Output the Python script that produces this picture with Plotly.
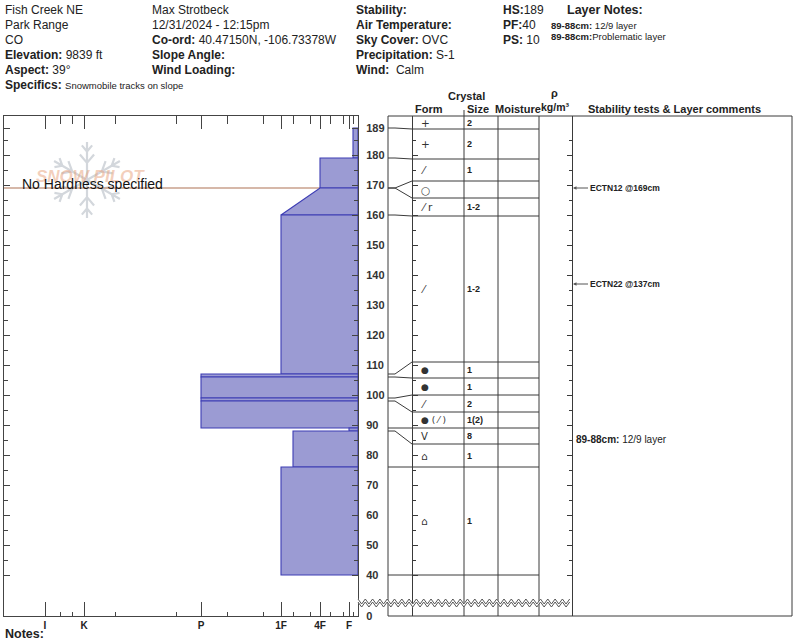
import math
import plotly.graph_objects as go

W, H = 800, 644
FONT = "Liberation Sans, Arial, Helvetica, sans-serif"
INK = "#222222"
GRID = "#3a3a3a"

# ---------------- header data ----------------
site_lines = ["Fish Creek NE", "Park Range", "CO"]
elevation = "9839 ft"
aspect = "39°"
specifics = "Snowmobile tracks on slope"
observer = "Max Strotbeck"
obs_time = "12/31/2024 - 12:15pm"
coord = "40.47150N, -106.73378W"
sky_cover = "OVC"
precipitation = "S-1"
wind = "Calm"
hs_cm = 189
pf_cm = 40
ps_cm = 10
note_depths = ["89-88cm:", "89-88cm:"]
note_texts = [" 12/9 layer", "Problematic layer"]

# ---------------- hardness scale ----------------
hard_major = ["I", "K", "P", "1F", "4F", "F"]
hard_minor = ["I-", "K+", "K-", "P+", "P-", "1F+", "1F-", "4F+", "4F-", "F+", "F-"]
hard_scale = {"F-": 5, "F": 9, "F+": 15, "4F-": 28, "4F": 38, "4F+": 48,
              "1F-": 65, "1F": 77, "1F+": 95, "P-": 131, "P": 157, "P+": 182,
              "K-": 243, "K": 274, "K+": 286, "I-": 298, "I": 313}

# ---------------- hardness profile ----------------
lay_top = [189, 179, 169, 160, 107, 106, 99, 98, 89, 88, 76]
lay_bot = [179, 169, 160, 107, 106, 99, 98, 89, 88, 76, 40]
hard_at_top = ["F-", "4F", "4F", "1F", "P", "P", "P", "P", "F", "1F-", "1F"]
hard_at_bot = ["F-", "4F", "1F", "1F", "P", "P", "P", "P", "F", "1F-", "1F"]
no_hardness_depths = [169]

# ---------------- crystal table ----------------
row_depth_edges = [189, 179, 169, 169, 160, 107, 106, 99, 98, 89, 88, 76, 40]
crystal_form = ["+", "+", "⁄", "○", "⁄ r", "⁄", "●", "●", "⁄", "● ( ⁄ )", "V", "⌂", "⌂"]
crystal_size = ["2", "2", "1", "", "1-2", "1-2", "1", "1", "2", "1(2)", "8", "1", "1"]

# ---------------- stability tests / comments ----------------
test_names = ["ECTN12", "ECTN22"]
test_depths = [169, 137]
comment_label = "89-88cm:"
comment_text = " 12/9 layer"

depth_major = list(range(40, 181, 10))
depth_minor = list(range(45, 186, 10))

# ---------------- layout geometry (pixels) ----------------
HX0, HX1 = 4, 358
PY_T, PY_B = 116, 616
Y40, PPC = 575, 3.0
D_TOP = 40 + (Y40 - PY_T) / PPC
D_BOT = 40 + (Y40 - PY_B) / PPC
ROW_PX = [116, 129, 159, 181, 198, 216, 362, 378, 395, 412, 428, 444, 467, 575]
COLS = [388, 412, 464, 498, 539, 572, 792]


def px(x):
    return x / W


def py(y):
    return 1 - y / H


def d_of(ypix):
    return 40 + (Y40 - ypix) / PPC


row_edges = [d_of(v) for v in ROW_PX]

fig = go.Figure()

for d in no_hardness_depths:
    fig.add_trace(go.Scatter(x=[HX1 - HX0, 0], y=[d, d], mode="lines",
                             line=dict(color="#c9a08c", width=1.3), hoverinfo="skip"))

for t, b, ht, hb in zip(lay_top, lay_bot, hard_at_top, hard_at_bot):
    fig.add_trace(go.Scatter(
        x=[0, hard_scale[ht], hard_scale[hb], 0, 0], y=[t, t, b, b, t],
        mode="lines", fill="toself", fillcolor="#9b9bd3",
        line=dict(color="#3c3cb4", width=1.1), hoverinfo="skip"))

fig.add_trace(go.Scatter(x=[None], y=[None], yaxis="y2", hoverinfo="skip"))
fig.add_trace(go.Scatter(x=[None], y=[None], yaxis="y3", hoverinfo="skip"))
fig.add_trace(go.Scatter(x=[None], y=[None], xaxis="x2", hoverinfo="skip"))

ydom = [py(PY_B), py(PY_T)]
hx_major = [hard_scale[k] for k in hard_major]
hx_minor = [hard_scale[k] for k in hard_minor]
fig.update_layout(
    width=W, height=H, autosize=False,
    margin=dict(l=0, r=0, t=0, b=0, pad=0, autoexpand=False),
    paper_bgcolor="white", plot_bgcolor="white", showlegend=False,
    xaxis=dict(domain=[px(HX0), px(HX1)], range=[HX1 - HX0, 0], automargin=False,
               showgrid=False, zeroline=False, showline=True, linecolor="#444",
               linewidth=1, mirror=True, ticks="inside", ticklen=14,
               tickcolor="#444", tickwidth=1, ticklabelstandoff=0,
               tickvals=hx_major, ticktext=hard_major,
               tickfont=dict(size=10, family=FONT, color=INK, weight="bold"),
               minor=dict(tickvals=hx_minor, ticks="inside",
                          ticklen=4, tickcolor="#444", tickwidth=1),
               fixedrange=True),
    xaxis2=dict(overlaying="x", side="top", anchor="y", range=[HX1 - HX0, 0],
                automargin=False,
                showgrid=False, zeroline=False, showline=False, ticks="inside",
                ticklen=13, tickcolor="#444", tickwidth=1, tickvals=hx_major,
                showticklabels=False,
                minor=dict(tickvals=hx_minor, ticks="inside", ticklen=8,
                           tickcolor="#444", tickwidth=1),
                fixedrange=True),
    yaxis=dict(domain=ydom, range=[D_BOT, D_TOP], side="right", automargin=False,
               showgrid=False, zeroline=False, showline=True, linecolor="#444",
               linewidth=1, mirror="ticks", ticks="inside", ticklen=6,
               tickcolor="#444", tickwidth=1,
               tickvals=[D_BOT] + depth_major + [hs_cm],
               ticktext=["0"] + [str(v) for v in depth_major] + [str(hs_cm)],
               ticklabelstandoff=5,
               tickfont=dict(size=11, family=FONT, color="#333", weight="bold"),
               minor=dict(tickvals=depth_minor, ticks="inside", ticklen=4,
                          tickcolor="#444", tickwidth=1),
               fixedrange=True),
    yaxis2=dict(overlaying="y", anchor="free", position=px(COLS[1]), side="left",
                automargin=False,
                range=[D_BOT, D_TOP], showgrid=False, zeroline=False, showline=True,
                linecolor=GRID, linewidth=1, ticks="inside", ticklen=5,
                tickcolor=GRID, tickvals=depth_major, showticklabels=False,
                minor=dict(tickvals=depth_minor, ticks="inside", ticklen=3,
                           tickcolor=GRID), fixedrange=True),
    yaxis3=dict(overlaying="y", anchor="free", position=px(COLS[5]), side="right",
                automargin=False,
                range=[D_BOT, D_TOP], showgrid=False, zeroline=False, showline=True,
                linecolor=GRID, linewidth=1, ticks="inside", ticklen=5,
                tickcolor=GRID, tickvals=depth_major, showticklabels=False,
                minor=dict(tickvals=depth_minor, ticks="inside", ticklen=3,
                           tickcolor=GRID), fixedrange=True),
)

shapes = []
LW = dict(color=GRID, width=1)

# snowflake watermark (line art)
CX, CY, ARM = 87, 180, 38
flake = []
for k in range(6):
    a = math.radians(90 + 60 * k)
    ux, uy = math.cos(a), -math.sin(a)
    flake.append(f"M {px(CX)},{py(CY)} L {px(CX + ARM * ux)},{py(CY + ARM * uy)}")
    for frac, blen in ((0.45, 11), (0.75, 8)):
        bx, by = CX + ARM * frac * ux, CY + ARM * frac * uy
        for s in (-1, 1):
            b = a + s * math.radians(40)
            flake.append(f"M {px(bx)},{py(by)} L {px(bx + blen * math.cos(b))},"
                         f"{py(by - blen * math.sin(b))}")
shapes.append(dict(type="path", xref="paper", yref="paper", path=" ".join(flake),
                   line=dict(color="#d3d7dc", width=2.2), layer="below"))

for x in [COLS[0], COLS[2], COLS[3], COLS[4], COLS[6]]:
    shapes.append(dict(type="line", xref="paper", yref="paper", x0=px(x), x1=px(x),
                       y0=py(PY_T), y1=py(PY_B), line=LW))
shapes.append(dict(type="line", xref="paper", yref="paper", x0=px(COLS[2]), x1=px(COLS[2]),
                   y0=py(110), y1=py(PY_T), line=LW))
shapes.append(dict(type="line", xref="paper", yref="paper", x0=px(COLS[0]), x1=px(COLS[6]),
                   y0=py(PY_T), y1=py(PY_T), line=LW))
shapes.append(dict(type="line", xref="paper", yref="paper", x0=px(COLS[0]), x1=px(COLS[6]),
                   y0=py(PY_B), y1=py(PY_B), line=LW))
for e in row_edges[1:]:
    shapes.append(dict(type="line", xref="paper", yref="y", x0=px(COLS[1]), x1=px(COLS[4]),
                       y0=e, y1=e, line=LW))
for d, e in zip(row_depth_edges, row_edges[1:]):
    shapes.append(dict(type="path", xref="paper", yref="y", line=LW,
                       path=f"M {px(COLS[0])},{d} L {px(395)},{d} L {px(COLS[1])},{e}"))

ZX0, ZX1, STEP = HX1, COLS[5] + 1, 3.65
pts = []
x = ZX0
i = 0
while x <= ZX1 + 0.01:
    pts.append((x, 599 if i % 2 == 0 else 604))
    x += STEP
    i += 1
upper = pts
lower = [(a, b + 3) for a, b in pts]
poly = "M " + " L ".join(f"{px(a)},{py(b - 0.5)}" for a, b in upper)
poly += " L " + " L ".join(f"{px(a)},{py(b + 0.5)}" for a, b in reversed(lower)) + " Z"
shapes.append(dict(type="path", xref="paper", yref="paper", path=poly,
                   fillcolor="white", line=dict(width=0)))
for line_pts in (upper, lower):
    p = "M " + " L ".join(f"{px(a)},{py(b)}" for a, b in line_pts)
    shapes.append(dict(type="path", xref="paper", yref="paper", path=p,
                       line=dict(color="#555", width=1)))
fig.update_layout(shapes=shapes)


def txt(x, y, s, size=12, anchor="left", color=INK, yref="paper", family=FONT):
    fig.add_annotation(x=px(x), y=(py(y) if yref == "paper" else y), xref="paper",
                       yref=yref, text=s, showarrow=False, xanchor=anchor,
                       yanchor="middle", font=dict(size=size, color=color, family=family))


txt(90, 176, "<b><i>SNOW PILOT</i></b>", size=17, anchor="center",
    color="rgba(232,160,122,0.5)")
txt(20, 184, "No Hardness specified", size=14, color="#111")

col1 = site_lines + [f"<b>Elevation:</b> {elevation}", f"<b>Aspect:</b> {aspect}",
                     f"<b>Specifics:</b> <span style='font-size:9.5px'>{specifics}</span>"]
col2 = [observer, obs_time, f"<b>Co-ord:</b> {coord}", "<b>Slope Angle:</b>",
        "<b>Wind Loading:</b>"]
col3 = ["<b>Stability:</b>", "<b>Air Temperature:</b>", f"<b>Sky Cover:</b> {sky_cover}",
        f"<b>Precipitation:</b> {precipitation}", f"<b>Wind:</b>\u00a0\u00a0{wind}"]
col4 = [f"<b>HS:</b>{hs_cm}", f"<b>PF:</b>{pf_cm}", f"<b>PS:</b> {ps_cm}"]
ROWY = [10, 25, 40, 55, 70, 85]
for colx, lines in ((3, col1), (150, col2), (354, col3), (501, col4)):
    for yy, s in zip(ROWY, lines):
        txt(colx, yy, s)
txt(565, 10, "<b>Layer Notes:</b>", size=12.5)
for yy, a, b in zip([25, 36], note_depths, note_texts):
    txt(549, yy, f"<b>{a}</b>{b}", size=9.5)
txt(3, 634, "<b>Notes:</b>", size=12.5)

txt(466, 96, "<b>Crystal</b>", size=11, anchor="center")
txt(429, 109, "<b>Form</b>", size=11, anchor="center")
txt(478, 109, "<b>Size</b>", size=11, anchor="center")
txt(518, 109, "<b>Moisture</b>", size=11, anchor="center")
txt(554, 93, "<b>ρ</b>", size=11, anchor="center")
txt(555, 107, "<b>kg/m³</b>", size=10.5, anchor="center")
txt(674, 109, "<b>Stability tests &amp; Layer comments</b>", size=11, anchor="center")

for k, (f, s) in enumerate(zip(crystal_form, crystal_size)):
    mid = (row_edges[k] + row_edges[k + 1]) / 2
    fsize = 9 if "●" in f else (10 if f == "V" else 10.5)
    txt(419, mid, f, size=fsize, yref="y", family="DejaVu Sans, " + FONT, color="#333")
    if s:
        txt(465, mid, f"<b>{s}</b>", size=9, yref="y")

for name, d in zip(test_names, test_depths):
    fig.add_annotation(x=px(COLS[5] + 1), y=d, xref="paper", yref="y",
                       text=f"<b>{name} @{d}cm</b>", showarrow=True, ax=15, ay=0,
                       xanchor="left", arrowhead=2, arrowsize=0.7, arrowwidth=1,
                       arrowcolor="#555", standoff=0,
                       font=dict(size=8.5, family=FONT, color=INK))
txt(574, d_of(439), f"<b>{comment_label}</b>{comment_text}", size=10, yref="y")

fig.write_html("out.html", config={"displayModeBar": False})
